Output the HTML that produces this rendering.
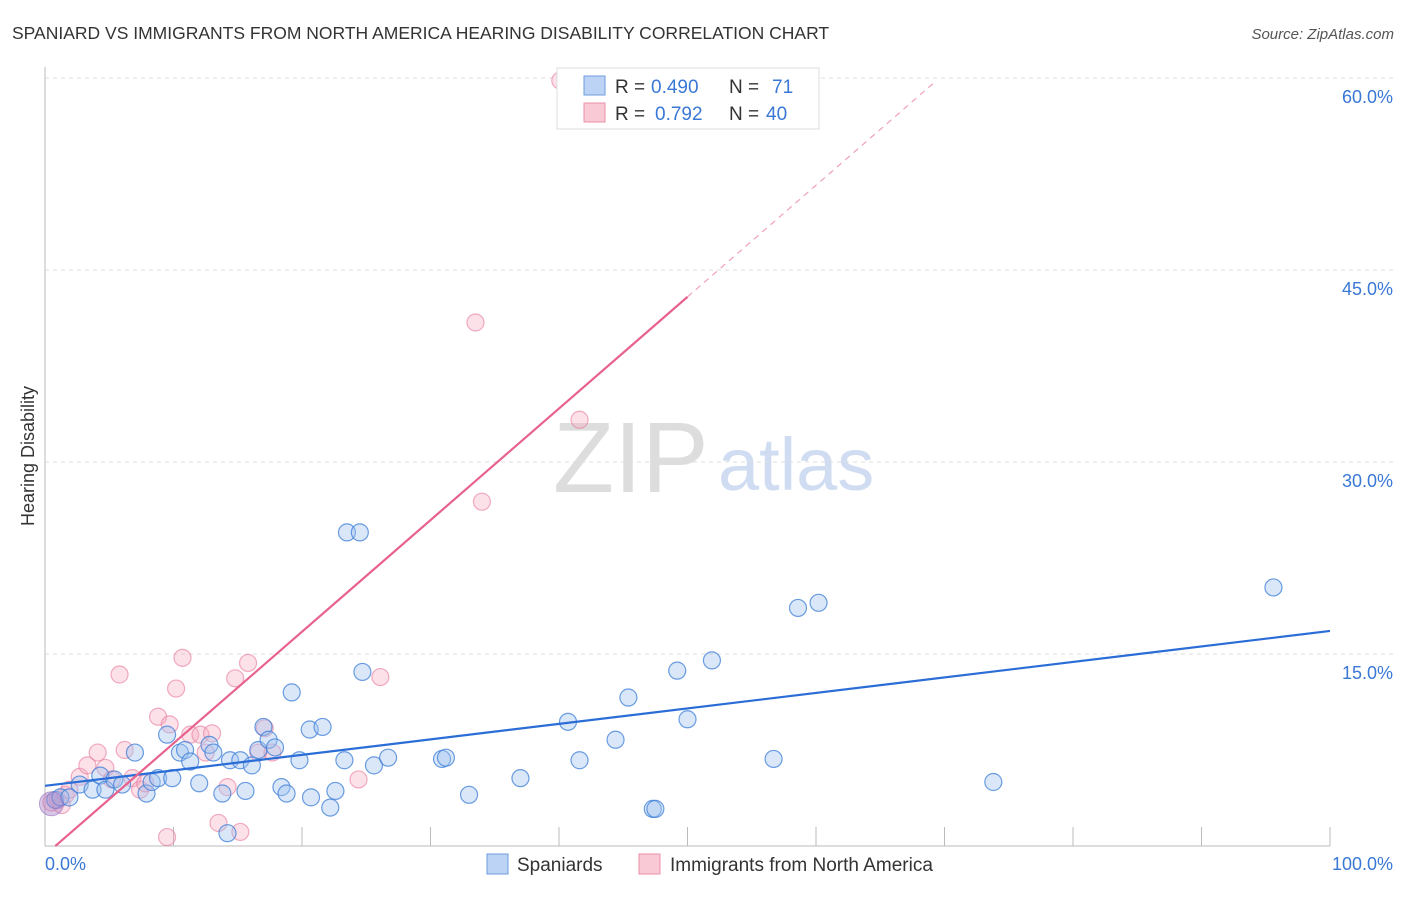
<!DOCTYPE html>
<html><head><meta charset="utf-8"><style>
body{margin:0;background:#fff;font-family:"Liberation Sans",sans-serif}
svg text{font-family:"Liberation Sans",sans-serif}
</style></head><body>
<svg id="c" width="1406" height="892" xmlns="http://www.w3.org/2000/svg">
<text x="12" y="39" font-size="17.5" fill="#333">SPANIARD VS IMMIGRANTS FROM NORTH AMERICA HEARING DISABILITY CORRELATION CHART</text>
<text x="1394" y="39" font-size="15" fill="#555" font-style="italic" text-anchor="end">Source: ZipAtlas.com</text>
<text transform="translate(34,456) rotate(-90)" font-size="18" fill="#333" text-anchor="middle">Hearing Disability</text>
<g>
<text x="553" y="492" font-size="100" fill="#ddd" font-family="Liberation Serif,serif">ZIP</text>
<text x="718" y="490" font-size="74" fill="#cfdcf2">atlas</text>
</g>
<g id="grid"></g>
<g id="ptsP"></g><g id="ptsB"></g>
<g id="lines"></g>
<g>
<rect x="557" y="68" width="262" height="61" fill="#fff" stroke="#ddd"/>
<rect x="584" y="76" width="21" height="19" fill="#bcd3f5" stroke="#6f9be0"/>
<rect x="584" y="103" width="21" height="19" fill="#f9c9d6" stroke="#ec90aa"/>
<text y="93" font-size="19" fill="#333"><tspan x="615">R =</tspan><tspan x="651" fill="#3a78d6">0.490</tspan><tspan x="729">N =</tspan><tspan x="772" fill="#3a78d6">71</tspan></text>
<text y="120" font-size="19" fill="#333"><tspan x="615">R =</tspan><tspan x="655" fill="#3a78d6">0.792</tspan><tspan x="729">N =</tspan><tspan x="766" fill="#3a78d6">40</tspan></text>
</g>
<g>
<rect x="487" y="854" width="21" height="20" fill="#bcd3f5" stroke="#6f9be0"/>
<text x="517" y="871" font-size="19" fill="#333">Spaniards</text>
<rect x="639" y="854" width="21" height="20" fill="#f9c9d6" stroke="#ec90aa"/>
<text x="670" y="871" font-size="19" fill="#333">Immigrants from North America</text>
</g>
</svg>
<script>
const yTicks=[15,30,45,60];
const yTickLabels=["15.0%","30.0%","45.0%","60.0%"];
const xTickVals=[0,10,20,30,40,50,60,70,80,90,100];
const blueX=[0.8,1.2,1.9,2.7,3.7,4.3,4.7,5.4,6.0,7.0,7.9,8.3,8.8,9.9,9.5,10.5,10.9,11.3,12.0,12.8,13.1,13.8,14.4,15.2,15.6,16.1,16.6,17.0,17.4,17.9,18.4,18.8,19.2,19.8,20.6,20.7,21.6,22.2,22.6,23.3,23.5,24.5,24.7,25.6,26.7,30.9,31.2,33.0,37.0,40.7,41.6,44.4,45.4,47.3,47.5,49.2,50.0,51.9,56.7,58.6,60.2,73.8,95.6,14.2];
const blueY=[3.6,3.8,3.8,4.8,4.4,5.5,4.4,5.2,4.8,7.3,4.1,5.0,5.3,5.3,8.7,7.3,7.5,6.6,4.9,7.9,7.3,4.1,6.7,6.7,4.3,6.3,7.5,9.3,8.3,7.7,4.6,4.1,12.0,6.7,9.1,3.8,9.3,3.0,4.3,6.7,24.5,24.5,13.6,6.3,6.9,6.8,6.9,4.0,5.3,9.7,6.7,8.3,11.6,2.9,2.9,13.7,9.9,14.5,6.8,18.6,19.0,5.0,20.2,1.0];
const pinkX=[0.5,1.0,1.6,1.9,2.7,3.3,4.1,4.7,5.2,5.8,6.2,6.8,7.4,7.8,8.8,9.7,10.2,10.7,11.3,12.1,12.5,13.0,13.5,14.2,14.8,15.2,15.8,16.6,17.1,17.7,24.4,26.1,9.5,33.5,34.0,41.6,40.1,1.3];
const pinkY=[3.4,3.6,4.0,4.4,5.4,6.3,7.3,6.1,5.2,13.4,7.5,5.3,4.4,4.9,10.1,9.5,12.3,14.7,8.7,8.7,7.3,8.8,1.8,4.6,13.1,1.1,14.3,7.3,9.2,7.3,5.2,13.2,0.7,40.9,26.9,33.3,59.8,3.2];
const blueTrend=[4.7,16.8];
const pinkTrend={slope:0.872,intercept:-0.7,solidEnd:50,dashEnd:69.3,start:0.8};
const X=v=>45+v*12.85, Y=v=>846-v*12.8;
const NS="http://www.w3.org/2000/svg";
function mk(p,t,a){const e=document.createElementNS(NS,t);for(const k in a)e.setAttribute(k,a[k]);p.appendChild(e);return e;}
const grid=document.getElementById('grid');
yTicks.forEach((t,i)=>{
 const l=mk(grid,'line',{x1:45,x2:1393,y1:Y(t),y2:Y(t),stroke:'#ddd','stroke-dasharray':'4,4'});
 
 
 const tx=mk(grid,'text',{x:1393,y:Y(t)+25,'font-size':18,fill:'#3a78d6','text-anchor':'end'});
 tx.textContent=yTickLabels[i];
 
 
});
const ax=mk(grid,'line',{x1:45,x2:45,y1:67,y2:846,stroke:'#bbb'});


const bx=mk(grid,'line',{x1:45,x2:1330,y1:846,y2:846,stroke:'#bbb'});


xTickVals.forEach(v=>{const t=mk(grid,'line',{x1:X(v),x2:X(v),y1:827,y2:846,stroke:'#bbb'});
 
 });
const x0=mk(grid,'text',{x:45,y:870,'font-size':18,fill:'#3a78d6'});x0.textContent='0.0%';


const x1=mk(grid,'text',{x:1393,y:870,'font-size':18,fill:'#3a78d6','text-anchor':'end'});x1.textContent='100.0%';


const gP=document.getElementById('ptsP'),gB=document.getElementById('ptsB');
pinkX.forEach((v,i)=>{const c=mk(gP,'circle',{cx:X(v),cy:Y(pinkY[i]),r:8.5,fill:'rgba(246,170,192,0.35)',stroke:'rgba(232,120,155,0.6)','stroke-width':1.2});
 
 });
blueX.forEach((v,i)=>{const c=mk(gB,'circle',{cx:X(v),cy:Y(blueY[i]),r:8.5,fill:'rgba(160,195,240,0.4)',stroke:'rgba(60,125,215,0.75)','stroke-width':1.2});
 
 });
const big=mk(gB,'circle',{cx:X(0.5),cy:Y(3.3),r:12,fill:'rgba(170,130,200,0.45)',stroke:'rgba(150,110,190,0.6)'});


const L=document.getElementById('lines');
const b=mk(L,'line',{x1:X(0),y1:Y(blueTrend[0]),x2:X(100),y2:Y(blueTrend[1]),stroke:'#2a6dd6','stroke-width':2.2});


const py=x=>pinkTrend.intercept+pinkTrend.slope*x;
const p=mk(L,'line',{x1:X(pinkTrend.start),y1:Y(py(pinkTrend.start)),x2:X(pinkTrend.solidEnd),y2:Y(py(pinkTrend.solidEnd)),stroke:'#e8628e','stroke-width':2.2});


const pd=mk(L,'line',{x1:X(pinkTrend.solidEnd),y1:Y(py(pinkTrend.solidEnd)),x2:X(pinkTrend.dashEnd),y2:Y(py(pinkTrend.dashEnd)),stroke:'#f0a0b8','stroke-width':1.2,'stroke-dasharray':'6,5'});


</script>
</body></html>
